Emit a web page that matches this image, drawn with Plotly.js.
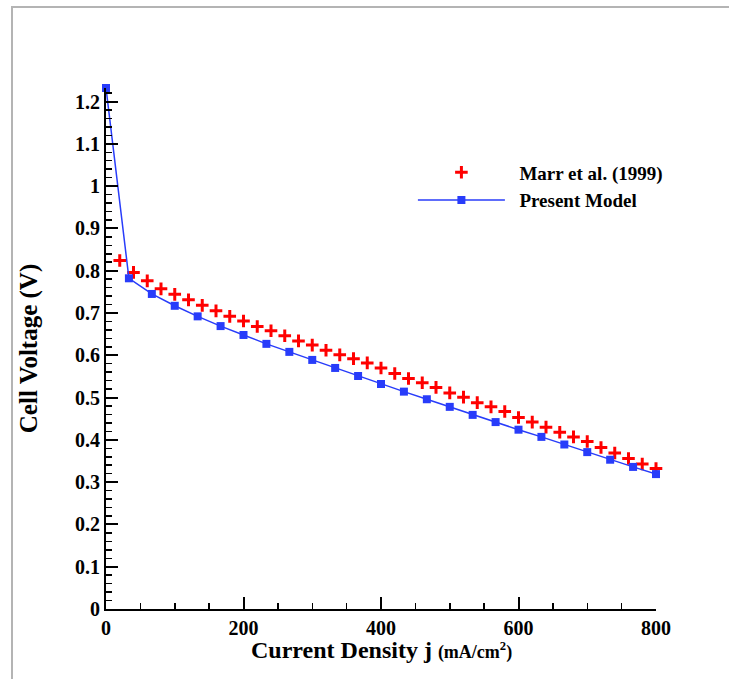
<!DOCTYPE html>
<html>
<head>
<meta charset="utf-8">
<script src="https://cdn.plot.ly/plotly-3.0.1.min.js"></script>
<style>
  html, body { margin: 0; padding: 0; background: #fff; }
  #chart { position: absolute; left: 0; top: 0; width: 729px; height: 679px; }
  #frame { position: absolute; left: 11px; top: 6px; width: 740px; height: 700px;
           border-left: 2px solid #b4b4b4; border-top: 2px solid #b4b4b4; pointer-events: none; }
</style>
</head>
<body>
<div id="chart"></div>
<div id="frame"></div>
<script>
// Marr et al. (1999) experimental data
const marrJ = [20,40,60,80,100,120,140,160,180,200,220,240,260,280,300,320,340,360,380,400,
               420,440,460,480,500,520,540,560,580,600,620,640,660,680,700,720,740,760,780,800];
const marrV = [0.824,0.796,0.776,0.757,0.744,0.731,0.718,0.705,0.692,0.681,0.668,0.658,0.646,0.634,0.624,0.612,0.601,0.592,0.582,0.570,
               0.557,0.545,0.535,0.524,0.511,0.501,0.488,0.478,0.467,0.453,0.442,0.430,0.418,0.407,0.396,0.382,0.369,0.356,0.343,0.332];
// Present Model
const modelJ = [0,33.33,66.67,100,133.33,166.67,200,233.33,266.67,300,333.33,366.67,400,
                433.33,466.67,500,533.33,566.67,600,633.33,666.67,700,733.33,766.67,800];
const modelV = [1.232,0.782,0.745,0.717,0.692,0.669,0.648,0.627,0.608,0.589,0.570,0.551,0.532,
                0.514,0.496,0.478,0.459,0.442,0.424,0.407,0.389,0.371,0.353,0.336,0.319];
const xTickVals = [0,200,400,600,800];
const yTickVals = [0,0.1,0.2,0.3,0.4,0.5,0.6,0.7,0.8,0.9,1,1.1,1.2];
const yTickText = ['0','0.1','0.2','0.3','0.4','0.5','0.6','0.7','0.8','0.9','1','1.1','1.2'];
const xTitle = 'Current Density j <span style="font-size:18px">(mA/cm<sup>2</sup>)</span>';
const yTitle = 'Cell Voltage (V)';

const serif = 'Liberation Serif, Times New Roman, serif';
const traces = [
  {
    x: marrJ, y: marrV, name: '\u00A0\u00A0Marr et al. (1999)', type: 'scatter', mode: 'markers',
    cliponaxis: false,
    marker: { symbol: 'cross-thin', size: 9, color: 'rgb(255,0,0)',
              line: { color: 'rgb(255,0,0)', width: 3 } }
  },
  {
    x: modelJ, y: modelV, name: '\u00A0\u00A0Present Model', type: 'scatter', mode: 'lines+markers',
    cliponaxis: false,
    line: { color: 'rgb(40,60,250)', width: 1.5 },
    marker: { symbol: 'square', size: 8, color: 'rgb(40,60,250)' }
  }
];

const axisCommon = {
  showgrid: false, zeroline: false, showline: true, linecolor: 'black', linewidth: 2,
  ticks: 'inside', ticklen: 12, tickwidth: 2, tickcolor: 'black',
  tickfont: { family: serif, size: 20, color: 'black', weight: 'bold' },
  mirror: false
};

const layout = {
  width: 729, height: 679,
  margin: { l: 106, r: 73, t: 88, b: 70, pad: 0 },
  paper_bgcolor: 'white', plot_bgcolor: 'white',
  showlegend: true,
  legend: {
    x: 0.558, y: 0.811, xanchor: 'left', yanchor: 'middle',
    bgcolor: 'rgba(0,0,0,0)', itemwidth: 87,
    font: { family: serif, size: 19, color: 'black', weight: 'bold' }
  },
  xaxis: Object.assign({}, axisCommon, {
    range: [0, 800], tickvals: xTickVals,
    minor: { dtick: 50, ticks: 'inside', ticklen: 6, tickwidth: 1.5, tickcolor: 'black' }
  }),
  yaxis: Object.assign({}, axisCommon, {
    range: [0, 1.232], tickvals: yTickVals, ticktext: yTickText,
    minor: { dtick: 0.02, ticks: 'inside', ticklen: 6, tickwidth: 1.5, tickcolor: 'black' },
    title: { text: yTitle,
             font: { family: serif, size: 25, color: 'black', weight: 'bold' }, standoff: 30 }
  }),
  annotations: [{
    text: xTitle, xref: 'paper', yref: 'paper', x: 0.5, y: -0.079,
    xanchor: 'center', yanchor: 'middle', showarrow: false,
    font: { family: serif, size: 24, color: 'black', weight: 'bold' }
  }]
};

Plotly.newPlot('chart', traces, layout, { displayModeBar: false, staticPlot: true });
</script>
</body>
</html>
